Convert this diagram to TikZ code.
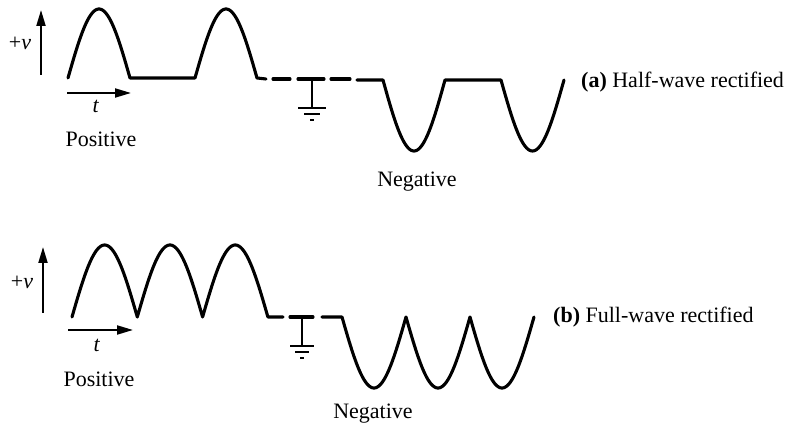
\documentclass[tikz,border=0pt]{standalone}
\usepackage{fontspec}
\setmainfont{Liberation Serif}
\usetikzlibrary{arrows.meta}
\tikzset{
  wave/.style={line width=3.1pt, line join=round, line cap=round},
  gnd/.style={line width=2.3pt},
  axisarrow/.style={line width=2pt, -{Triangle[length=16pt,width=9pt]}},
  lbl/.style={inner sep=0pt, font=\fontsize{22}{24}\selectfont},
}
\begin{document}
\begin{tikzpicture}[x=1pt,y=-1pt]
\useasboundingbox (0,0) rectangle (790,427);

% ---------------- panel (a) ----------------
\coordinate (a-vbot) at (41,75);
\coordinate (a-vtop) at (41,10);
\draw[axisarrow] (a-vbot) -- (a-vtop);
\coordinate (a-tl) at (67,93);
\coordinate (a-tr) at (131,93);
\draw[axisarrow] (a-tl) -- (a-tr);
\node[lbl] (a-pv) at (20,43) {+\textit{v}};
\node[lbl] (a-t) at (96,106) {\textit{t}};
\node[lbl] (a-pos) at (101,139) {Positive};
\node[lbl] (a-neg) at (417,182) {Negative};
\node[lbl, anchor=west] (a-lab) at (581,82) {\textbf{(a)} Half-wave rectified};

% positive half-wave
\draw[wave] plot[domain=0:180,samples=60] ({68+62*\x/180},{78-69*sin(\x)})
  -- (195,78)
  -- plot[domain=0:180,samples=60] ({195+62*\x/180},{78-69*sin(\x)})
  -- (266,79);
% dashed ground level
\draw[wave] (273,79) -- (290,79);
\draw[wave] (298,79) -- (324,79);
\draw[wave] (331,79) -- (350,79);
% negative half-wave
\draw[wave] (357,80) -- (383,80)
  -- plot[domain=0:180,samples=60] ({383+62*\x/180},{80+71*sin(\x)})
  -- (501,80)
  -- plot[domain=0:180,samples=60] ({501+63*\x/180},{80+71*sin(\x)});
% ground symbol
\draw[gnd] (312,80) -- (312,108);
\draw[gnd] (298,108) -- (326,108);
\draw[gnd] (304,114) -- (320,114);
\draw[gnd] (310,120) -- (314,120);

% ---------------- panel (b) ----------------
\coordinate (b-vbot) at (43,313);
\coordinate (b-vtop) at (43,247);
\draw[axisarrow] (b-vbot) -- (b-vtop);
\coordinate (b-tl) at (68,330);
\coordinate (b-tr) at (133,330);
\draw[axisarrow] (b-tl) -- (b-tr);
\node[lbl] (b-pv) at (22,282) {+\textit{v}};
\node[lbl] (b-t) at (97,345) {\textit{t}};
\node[lbl] (b-pos) at (99,379) {Positive};
\node[lbl] (b-neg) at (373,414) {Negative};
\node[lbl, anchor=west] (b-lab) at (553,317) {\textbf{(b)} Full-wave rectified};

% positive full-wave
\draw[wave] plot[domain=0:180,samples=60] ({72+65.3*\x/180},{317-72*sin(\x)})
  -- plot[domain=0:180,samples=60] ({137.3+65.3*\x/180},{317-72*sin(\x)})
  -- plot[domain=0:180,samples=60] ({202.6+65.3*\x/180},{317-72*sin(\x)})
  -- (283,317);
\draw[wave] (290,317) -- (313,317);
% negative full-wave
\draw[wave] (322,317) -- (342,317)
  -- plot[domain=0:180,samples=60] ({342+64*\x/180},{317+71*sin(\x)})
  -- plot[domain=0:180,samples=60] ({406+64*\x/180},{317+71*sin(\x)})
  -- plot[domain=0:180,samples=60] ({470+64*\x/180},{317+71*sin(\x)});
% ground symbol
\draw[gnd] (302,317) -- (302,346);
\draw[gnd] (290,346) -- (314,346);
\draw[gnd] (295,352) -- (309,352);
\draw[gnd] (300,358) -- (304,358);
\end{tikzpicture}
\end{document}
